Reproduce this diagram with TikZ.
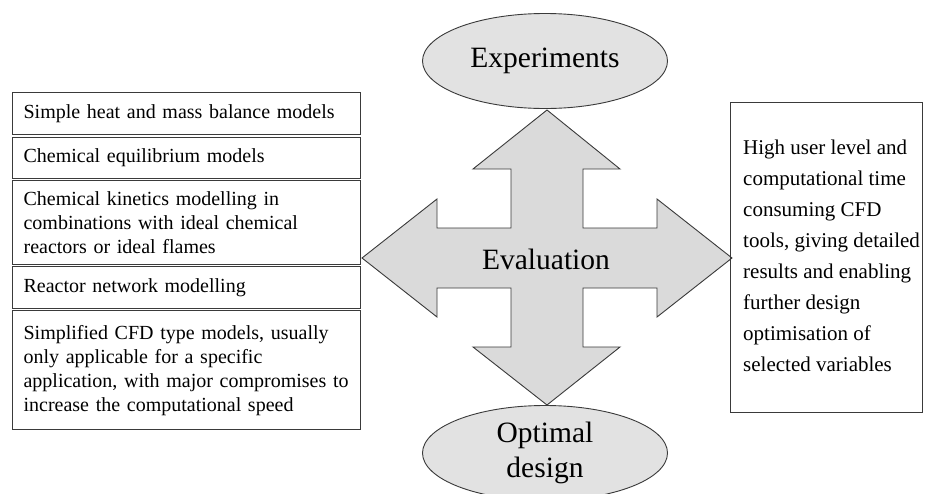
\documentclass[tikz,border=0pt]{standalone}
\usepackage{fontspec}
\setmainfont{Liberation Serif}
\usetikzlibrary{shapes.geometric}
\definecolor{edge}{HTML}{3A3A3A}
\definecolor{arrowfill}{HTML}{DADADA}
\definecolor{ellfill}{HTML}{E2E2E2}
\tikzset{
  leftbox/.style={draw=edge, line width=1.2pt, rectangle, anchor=north west,
    inner xsep=11pt, inner ysep=0pt, text width=326pt, align=left,
    font=\fontsize{20}{24}\selectfont},
  rightbox/.style={draw=edge, line width=1.2pt, rectangle, anchor=north west,
    inner sep=0pt, minimum width=192pt, minimum height=310pt},
  righttext/.style={anchor=west, inner sep=0pt, align=left,
    font=\fontsize{21}{31}\selectfont},
  oval/.style={draw=edge, line width=0.9pt, fill=ellfill, ellipse, inner sep=0pt,
    minimum width=245pt, minimum height=95pt, align=center,
    font=\fontsize{29.5}{35}\selectfont},
  crossarrow/.style={draw=edge, line width=0.9pt, fill=arrowfill, line join=miter},
}
\begin{document}
\begin{tikzpicture}[x={(1pt,0)}, y={(0,-1pt)}]
\useasboundingbox (0,0) rectangle (928,493);
% central four-way arrow
\draw[crossarrow] (547,110) -- (620,169) -- (583,169) -- (583,228) -- (657,228) -- (657,199)
  -- (732,258) -- (657,317) -- (657,288) -- (583,288) -- (583,347) -- (620,347)
  -- (547,405) -- (473,347) -- (511,347) -- (511,288) -- (437,288) -- (437,317)
  -- (362,258) -- (437,199) -- (437,228) -- (511,228) -- (511,169) -- (473,169) -- cycle;
\node[font=\fontsize{29.5}{35}\selectfont] (eval) at (546,259) {Evaluation};
% ellipses
\node[oval] (exp) at (545,61) {Experiments};
\node[oval] (opt) at (545,453) {Optimal\\design};
% left boxes
\node[leftbox, minimum height=42pt] (b1) at (12,92) {Simple heat and mass balance models};
\node[leftbox, minimum height=41pt] (b2) at (12,137) {Chemical equilibrium models};
\node[leftbox, minimum height=84pt] (b3) at (12,180) {Chemical kinetics modelling in\\combinations with ideal chemical\\reactors or ideal flames};
\node[leftbox, minimum height=42pt] (b4) at (12,266) {Reactor network modelling};
\node[leftbox, minimum height=119pt] (b5) at (12,310) {Simplified CFD type models, usually\\only applicable for a specific\\application, with major compromises to\\increase the computational speed};
% right box
\node[rightbox] (rb) at (730,102) {};
\node[righttext] (rt) at ([xshift=13pt, yshift=2pt]rb.west) {High user level and\\computational time\\consuming CFD\\tools, giving detailed\\results and enabling\\further design\\optimisation of\\selected variables};
\end{tikzpicture}
\end{document}
